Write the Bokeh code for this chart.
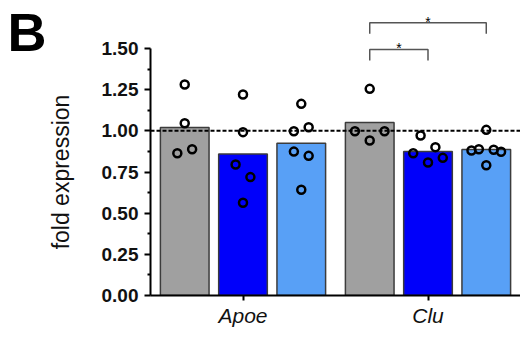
from bokeh.plotting import figure
from bokeh.models import (FactorRange, Range1d, FixedTicker, NumeralTickFormatter,
                          Span, LinearAxis, ColumnDataSource)
from bokeh.transform import dodge
from bokeh.embed import file_html
from bokeh.resources import INLINE

# ---------------- data ----------------
genes = ["Apoe", "Clu"]
series_names = ["control", "group 2", "group 3"]

ctrl_means = [1.02, 1.05]
blue_means = [0.86, 0.875]
light_means = [0.925, 0.887]

apoe_ctrl = [1.281, 1.046, 0.864, 0.888]
apoe_blue = [1.221, 0.992, 0.796, 0.719, 0.563]
apoe_light = [1.164, 0.998, 1.022, 0.874, 0.848, 0.642]
clu_ctrl = [1.255, 0.998, 0.998, 0.941]
clu_blue = [0.972, 0.901, 0.864, 0.836, 0.808]
clu_light = [1.006, 0.881, 0.888, 0.885, 0.873, 0.791]

# jitter slots (scatter spreading of overlapping points)
apoe_ctrl_jit = [0, 0, -1, 1]
apoe_blue_jit = [0, 0, -1, 1, 0]
apoe_light_jit = [0, -1, 1, -1, 1, 0]
clu_ctrl_jit = [0, -2, 2, 0]
clu_blue_jit = [-1, 1, -2, 2, 0]
clu_light_jit = [0, -2, -1, 1, 2, 0]

# significance comparisons: (gene, series a, series b, label)
comparisons = [("Clu", 0, 1, "*"), ("Clu", 0, 2, "*")]

y_ticks = [0.0, 0.25, 0.5, 0.75, 1.0, 1.25, 1.5]
y_minor = [0.125, 0.375, 0.625, 0.875, 1.125, 1.375]
y_label = "fold expression"
panel_letter = "B"

# ---------------- style ----------------
FONT = "Liberation Sans"
colors = ["#a0a0a0", "#0000fa", "#58a0f6"]
offsets = [-0.315, 0.0, 0.315]
bar_w = 0.263
jit_step = 0.04
bracket_levels = [1.494, 1.656]
bracket_drop = 0.067
letter_y = 1.621

W, H = 520, 338
p = figure(x_range=FactorRange(factors=genes, range_padding=0),
           y_range=Range1d(0, 1.743),
           width=W, height=H,
           min_border_left=150, min_border_right=0,
           min_border_top=8, min_border_bottom=43,
           output_backend="svg", toolbar_location=None,
           background_fill_color="white", border_fill_color="white")
p.outline_line_color = None
p.xgrid.visible = False
p.ygrid.visible = False

means = [ctrl_means, blue_means, light_means]
for i in range(3):
    src = ColumnDataSource(dict(gene=genes, top=means[i]))
    p.vbar(x=dodge("gene", offsets[i], range=p.x_range), top="top", bottom=0,
           width=bar_w, source=src, fill_color=colors[i],
           line_color="#3c3c3c", line_width=1.5)

p.add_layout(Span(location=1.0, dimension="width", line_color="black",
                  line_width=2, line_dash="4 2"))

points = {"Apoe": [apoe_ctrl, apoe_blue, apoe_light],
          "Clu": [clu_ctrl, clu_blue, clu_light]}
jits = {"Apoe": [apoe_ctrl_jit, apoe_blue_jit, apoe_light_jit],
        "Clu": [clu_ctrl_jit, clu_blue_jit, clu_light_jit]}
for g in genes:
    for i in range(3):
        vals = points[g][i]
        xs = [(g, offsets[i] + j * jit_step) for j in jits[g][i]]
        p.scatter(x=xs, y=vals, marker="circle", size=8, fill_color=None,
                  line_color="black", line_width=2.5)

for k, (g, a, b, lab) in enumerate(comparisons):
    lvl = bracket_levels[k]
    xa, xb = (g, offsets[a]), (g, offsets[b])
    p.multi_line(xs=[[xa, xa, xb, xb]],
                 ys=[[lvl - bracket_drop, lvl, lvl, lvl - bracket_drop]],
                 line_color="#555555", line_width=1.5)
    p.text(x=[(g, (offsets[a] + offsets[b]) / 2)], y=[lvl + 0.008], text=[lab],
           text_align="center", text_baseline="alphabetic",
           text_font_size="14px", text_color="#000000",
           text_font={"value": FONT})

# main y axis
ya = p.yaxis[0]
ya.ticker = FixedTicker(ticks=y_ticks, minor_ticks=y_minor)
ya.formatter = NumeralTickFormatter(format="0.00")
ya.bounds = (0, 1.5)
ya.major_label_text_font = FONT
ya.major_label_text_font_size = "19px"
ya.major_label_text_font_style = "bold"
ya.major_label_text_color = "#111111"
ya.major_label_standoff = 6
ya.axis_line_width = 2
ya.axis_line_color = "black"
ya.major_tick_line_width = 2
ya.major_tick_line_color = "black"
ya.major_tick_out = 6
ya.major_tick_in = 0
ya.minor_tick_line_width = 2
ya.minor_tick_line_color = "black"
ya.minor_tick_out = 3
ya.minor_tick_in = 0


def text_axis(tick, label, size, style, standoff, orientation="horizontal"):
    ax = LinearAxis(ticker=FixedTicker(ticks=[tick], minor_ticks=[]),
                    major_label_overrides={tick: label},
                    major_label_orientation=orientation,
                    major_label_text_font=FONT, major_label_text_font_size=size,
                    major_label_text_font_style=style,
                    major_label_text_color="#111111" if style == "normal" else "black",
                    major_label_standoff=standoff,
                    axis_line_color=None, major_tick_line_color=None,
                    minor_tick_line_color=None, major_tick_out=0, major_tick_in=0,
                    minor_tick_out=0, minor_tick_in=0)
    p.add_layout(ax, "left")
    return ax


# y-axis title centred on the drawn axis (0 .. 1.5), and the panel letter
text_axis((y_ticks[0] + y_ticks[-1]) / 2, y_label, "23px", "normal", 24, "vertical")
text_axis(letter_y, panel_letter, "54px", "bold", -1)

xa_ = p.xaxis[0]
xa_.axis_line_width = 2
xa_.axis_line_color = "black"
xa_.major_tick_line_width = 2
xa_.major_tick_line_color = "black"
xa_.major_tick_out = 5
xa_.major_tick_in = 0
xa_.major_label_text_font = FONT
xa_.major_label_text_font_size = "21px"
xa_.major_label_text_font_style = "italic"
xa_.major_label_text_color = "#111111"
xa_.major_label_standoff = 3

open("out.html", "w").write(file_html(p, INLINE))
